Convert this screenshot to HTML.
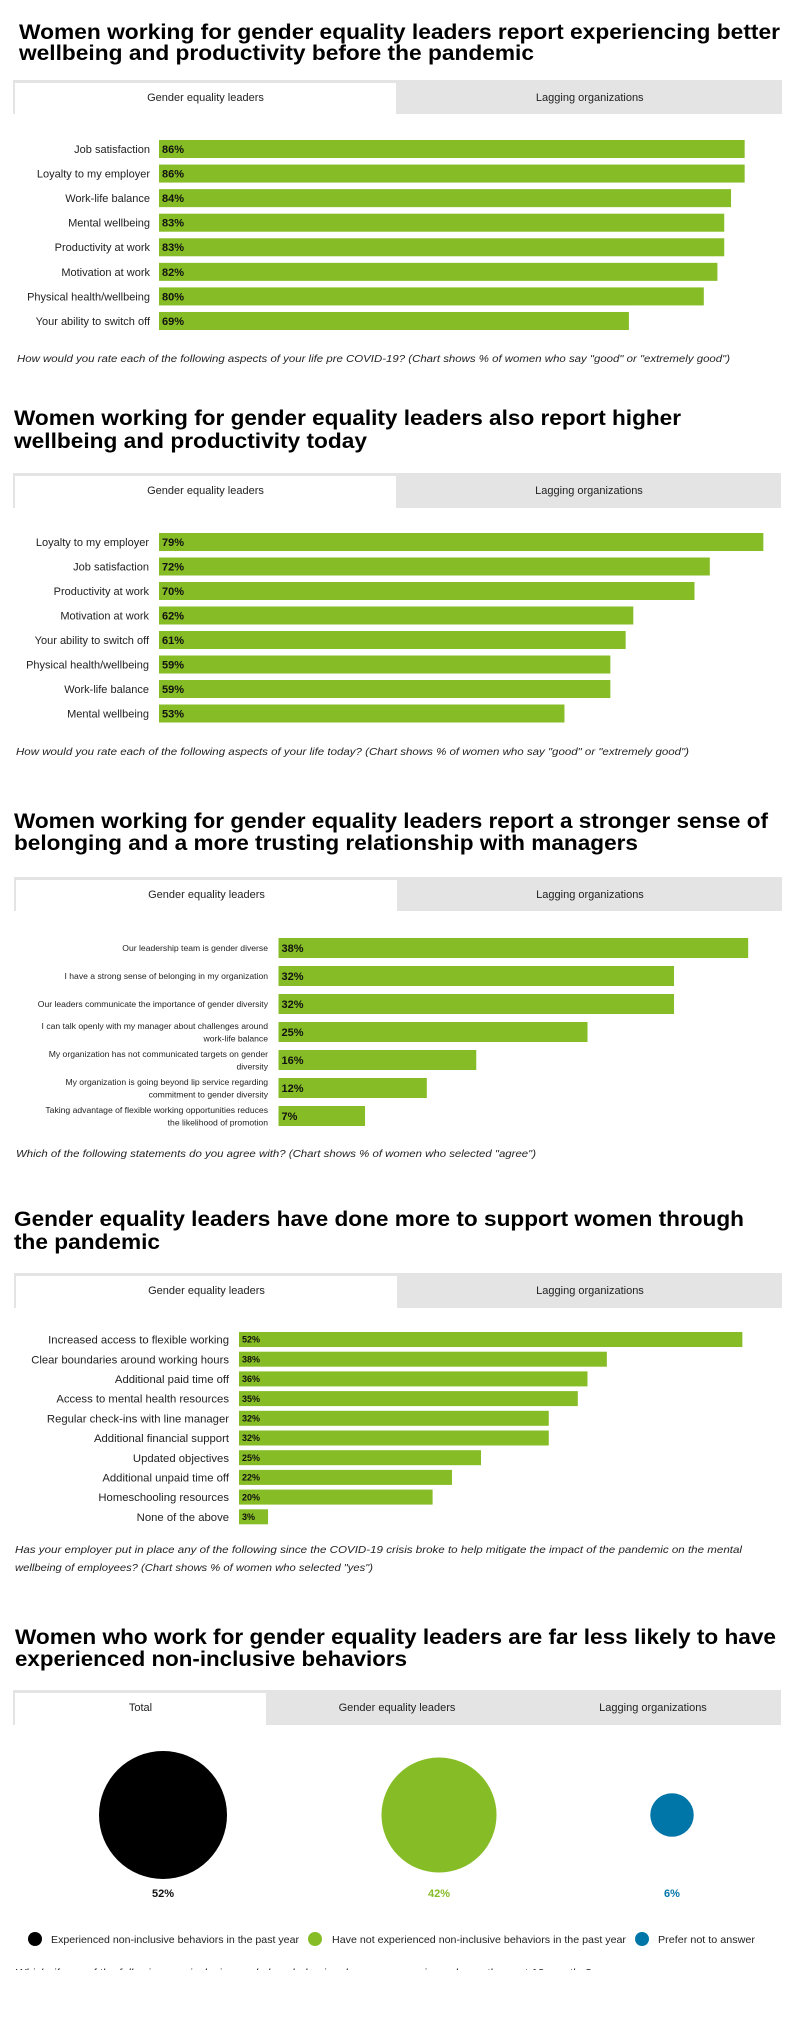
<!DOCTYPE html>
<html><head><meta charset="utf-8"><style>
html,body{margin:0;padding:0;background:#fff;width:800px;height:2031px;overflow:hidden}
svg{display:block;font-family:"Liberation Sans",sans-serif}
</style></head><body>
<svg id="page" width="800" height="2031" viewBox="0 0 800 2031" xmlns="http://www.w3.org/2000/svg"></svg>
<script>
// ---- Chart 1 data
const c1Categories = ["Job satisfaction","Loyalty to my employer","Work-life balance","Mental wellbeing","Productivity at work","Motivation at work","Physical health/wellbeing","Your ability to switch off"];
const c1Values = [86,86,84,83,83,82,80,69];
// ---- Chart 2 data
const c2Categories = ["Loyalty to my employer","Job satisfaction","Productivity at work","Motivation at work","Your ability to switch off","Physical health/wellbeing","Work-life balance","Mental wellbeing"];
const c2Values = [79,72,70,62,61,59,59,53];
// ---- Chart 3 data
const c3Categories = [["Our leadership team is gender diverse"],["I have a strong sense of belonging in my organization"],["Our leaders communicate the importance of gender diversity"],["I can talk openly with my manager about challenges around","work-life balance"],["My organization has not communicated targets on gender","diversity"],["My organization is going beyond lip service regarding","commitment to gender diversity"],["Taking advantage of flexible working opportunities reduces","the likelihood of promotion"]];
const c3Values = [38,32,32,25,16,12,7];
// ---- Chart 4 data
const c4Categories = ["Increased access to flexible working","Clear boundaries around working hours","Additional paid time off","Access to mental health resources","Regular check-ins with line manager","Additional financial support","Updated objectives","Additional unpaid time off","Homeschooling resources","None of the above"];
const c4Values = [52,38,36,35,32,32,25,22,20,3];
// ---- Chart 5 data
const c5Categories = ["Experienced non-inclusive behaviors in the past year","Have not experienced non-inclusive behaviors in the past year","Prefer not to answer"];
const c5Values = [52,42,6];

const NS="http://www.w3.org/2000/svg";
const svg=document.getElementById('page');
function mk(tag,attrs,parent,text){const e=document.createElementNS(NS,tag);for(const k in attrs)e.setAttribute(k,attrs[k]);if(text!==undefined)e.textContent=text;(parent||svg).appendChild(e);return e;}

function title(lines,ys,lens,x){
  lines.forEach((t,i)=>{
    const e=mk('text',{x:x,y:ys[i]+7,'font-size':21,'font-weight':'bold',fill:'#000',textLength:lens[i],lengthAdjust:'spacingAndGlyphs'},svg,t);
    
    
  });
}
function tabs(top,bottom,names,activeW,x0,x1,textY){
  const g=mk('g',{});
  
  
  mk('rect',{x:x0,y:top,width:x1-x0,height:bottom-top,fill:'#e4e4e4'},g);
  mk('rect',{x:x0+2,y:top+3,width:activeW,height:bottom-top-3,fill:'#fff'},g);
  const n=names.length,w=(x1-x0)/n;
  names.forEach((nm,i)=>{
    const t=mk('text',{x:(i===0?x0+2+activeW/2:x0+w*i+w/2),y:textY+4,'font-size':11,'text-anchor':'middle',fill:'#222'},g,nm);
    
    
  });
}
function bars(cats,vals,o){
  const xs=v=>o.x0+v*o.scale;
  const g=mk('g',{});
  
  
  cats.forEach((c,i)=>{
    const y=o.top+i*o.step;
    const r=mk('rect',{x:o.x0,y:y,width:xs(vals[i])-o.x0,height:o.h,fill:'#86bc25'},g);
    
    
    const v=mk('text',{x:o.x0+3,y:y+o.h/2+o.vfs*0.36,'font-size':o.vfs,'font-weight':'bold',fill:'#111'},g,vals[i]+'%');
    
    
    const lines=Array.isArray(c)?c:[c];
    lines.forEach((ln,j)=>{
      const ly=y+o.h/2+o.lfs*0.36+(j-(lines.length-1)/2)*o.lh;
      const l=mk('text',{x:o.lx,y:ly,'font-size':o.lfs,'text-anchor':'end',fill:'#222'},g,ln);
      
      
    });
  });
}
function note(lines,ys,lens,x){
  lines.forEach((t,i)=>{
    const e=mk('text',{x:x,y:ys[i]+4,'font-size':10.5,'font-style':'italic',fill:'#222',textLength:lens[i],lengthAdjust:'spacingAndGlyphs'},svg,t);
    
    
  });
}

// Section 1
title(["Women working for gender equality leaders report experiencing better","wellbeing and productivity before the pandemic"],[32,53],[761,515],19);
tabs(80,114,["Gender equality leaders","Lagging organizations"],381,13,782,97);
bars(c1Categories,c1Values,{name:'chart-pre-covid',x0:159,scale:6.81,top:140,step:24.57,h:18,vfs:11,lfs:11,lx:150,lh:13});
note(['How would you rate each of the following aspects of your life pre COVID-19? (Chart shows % of women who say "good" or "extremely good")'],[358],[713],17);

// Section 2
title(["Women working for gender equality leaders also report higher","wellbeing and productivity today"],[418,441],[667,353],14);
tabs(473,508,["Gender equality leaders","Lagging organizations"],381,13,781,490);
bars(c2Categories,c2Values,{name:'chart-today',x0:159,scale:7.65,top:533,step:24.5,h:18,vfs:11,lfs:11,lx:149,lh:13});
note(['How would you rate each of the following aspects of your life today? (Chart shows % of women who say "good" or "extremely good")'],[751],[673],16);

// Section 3
title(["Women working for gender equality leaders report a stronger sense of","belonging and a more trusting relationship with managers"],[821,843],[754,624],14);
tabs(877,911,["Gender equality leaders","Lagging organizations"],381,14,782,894);
bars(c3Categories,c3Values,{name:'chart-belonging',x0:278.5,scale:12.36,top:938,step:28,h:20,vfs:11,lfs:8.6,lx:268,lh:12.5});
note(['Which of the following statements do you agree with? (Chart shows % of women who selected "agree")'],[1153],[520],16);

// Section 4
title(["Gender equality leaders have done more to support women through","the pandemic"],[1219,1242],[730,146],14);
tabs(1273,1308,["Gender equality leaders","Lagging organizations"],381,14,782,1290);
bars(c4Categories,c4Values,{name:'chart-support',x0:239,scale:9.68,top:1332,step:19.7,h:15,vfs:9,lfs:11.3,lx:229,lh:13});
note(['Has your employer put in place any of the following since the COVID-19 crisis broke to help mitigate the impact of the pandemic on the mental','wellbeing of employees? (Chart shows % of women who selected "yes")'],[1549,1567],[727,358],15);

// Section 5
title(["Women who work for gender equality leaders are far less likely to have","experienced non-inclusive behaviors"],[1637,1659],[761,392],15);
tabs(1690,1725,["Total","Gender equality leaders","Lagging organizations"],251,13,781,1707);
const c5Colors=['#000000','#86bc25','#0076a8'];
const c5Cx=[163,439,672];
const rScale=v=>64*Math.sqrt(v/52);
const g5=mk('g',{});


c5Values.forEach((v,i)=>{
  const c=mk('circle',{cx:c5Cx[i],cy:1815,r:rScale(v),fill:c5Colors[i]},g5);
  
  
  const t=mk('text',{x:c5Cx[i],y:1897,'font-size':11,'font-weight':'bold','text-anchor':'middle',fill:i===0?'#111':c5Colors[i]},g5,v+'%');
  
  
});
const legDot=[35,315,642],legTx=[51,332,658],legLen=[248,294,97];
c5Categories.forEach((c,i)=>{
  const d=mk('circle',{cx:legDot[i],cy:1939,r:7,fill:c5Colors[i]});
  
  
  const t=mk('text',{x:legTx[i],y:1943,'font-size':10.5,fill:'#222',textLength:legLen[i],lengthAdjust:'spacingAndGlyphs'},svg,c);
  
  
});
note(['Which, if any, of the following non-inclusive workplace behaviors have you experienced over the past 12 months?'],[1972],[576],15);
const cover=mk('rect',{x:0,y:1970,width:800,height:61,fill:'#fff'});


</script>
</body></html>
